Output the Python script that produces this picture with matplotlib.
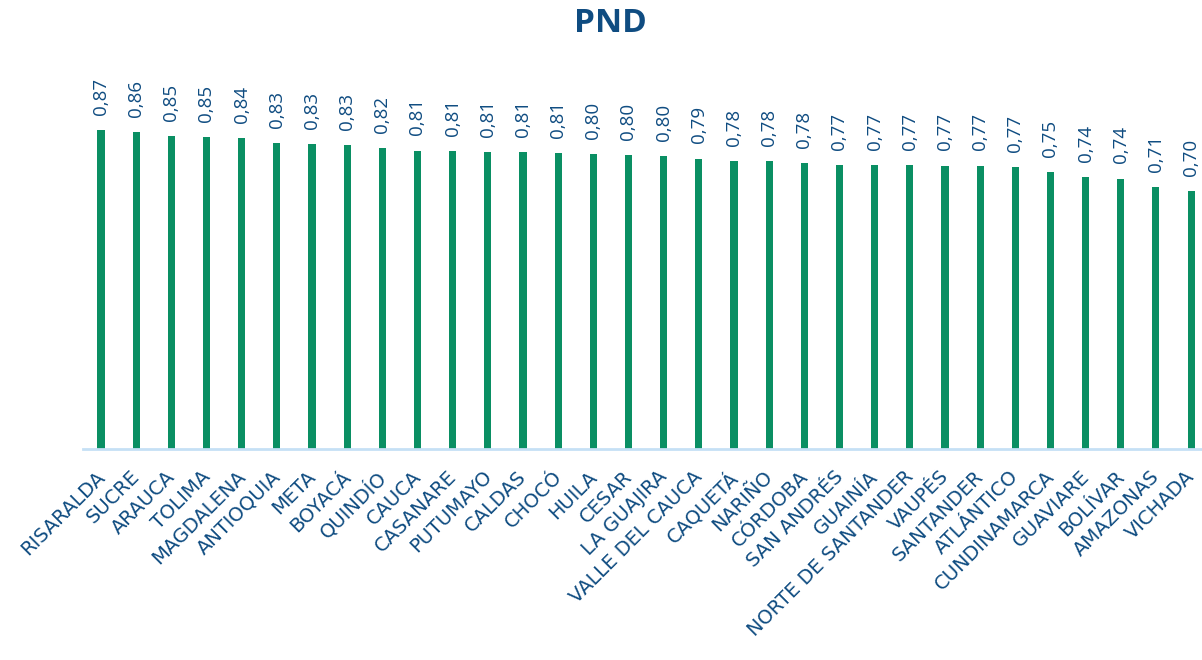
import numpy as np
import matplotlib.pyplot as plt
import matplotlib.transforms as mtransforms

# departamentos y valores (PND)
departamentos = ["RISARALDA", "SUCRE", "ARAUCA", "TOLIMA", "MAGDALENA", "ANTIOQUIA",
                 "META", "BOYACÁ", "QUINDÍO", "CAUCA", "CASANARE", "PUTUMAYO",
                 "CALDAS", "CHOCÓ", "HUILA", "CESAR", "LA GUAJIRA", "VALLE DEL CAUCA",
                 "CAQUETÁ", "NARIÑO", "CÓRDOBA", "SAN ANDRÉS", "GUAINÍA",
                 "NORTE DE SANTANDER", "VAUPÉS", "SANTANDER", "ATLÁNTICO",
                 "CUNDINAMARCA", "GUAVIARE", "BOLÍVAR", "AMAZONAS", "VICHADA"]
valores = [0.866, 0.861, 0.851, 0.848, 0.845, 0.832, 0.829, 0.826, 0.817, 0.811,
           0.810, 0.807, 0.806, 0.804, 0.802, 0.799, 0.796, 0.789, 0.783, 0.783,
           0.777, 0.772, 0.771, 0.771, 0.770, 0.770, 0.766, 0.752, 0.739, 0.735,
           0.712, 0.701]
etiquetas = ["0,87", "0,86", "0,85", "0,85", "0,84", "0,83", "0,83", "0,83", "0,82",
             "0,81", "0,81", "0,81", "0,81", "0,81", "0,80", "0,80", "0,80", "0,79",
             "0,78", "0,78", "0,78", "0,77", "0,77", "0,77", "0,77", "0,77", "0,77",
             "0,75", "0,74", "0,74", "0,71", "0,70"]

verde = "#0A8F63"
azul = "#0F4C81"

fig = plt.figure(figsize=(12.02, 6.6), dpi=100)
ax = fig.add_axes([0.0694, 0.3197, 0.9362, 0.5576])

x = np.arange(len(departamentos))
ax.bar(x, valores, width=0.2, color=verde)

# etiquetas de valor
for xi, v, t in zip(x, valores, etiquetas):
    ax.annotate(t, (xi, v), xytext=(0, 11), textcoords="offset points",
                rotation=90, ha="center", va="bottom", color=azul,
                fontsize=13.5, family="Open Sans")

ax.set_xlim(-0.5, len(departamentos) - 0.5)
ax.set_ylim(0, 1)
ax.set_yticks([])
ax.set_xticks(x)
ax.set_xticklabels(departamentos, rotation=45, ha="right", rotation_mode="anchor",
                   color=azul, fontsize=14, family="DejaVu Sans")
ax.tick_params(axis="x", length=0, pad=13)
# correr un poco las etiquetas a la izquierda
desplaza = mtransforms.ScaledTranslation(-6 / 100, 0, fig.dpi_scale_trans)
for lbl in ax.get_xticklabels():
    lbl.set_transform(lbl.get_transform() + desplaza)
for s in ["top", "right", "left"]:
    ax.spines[s].set_visible(False)
ax.spines["bottom"].set_color("#C5E0F5")
ax.spines["bottom"].set_linewidth(2)

fig.text(0.508, 0.965, "PND", ha="center", va="center", fontsize=24,
         fontweight="bold", color=azul, family="Open Sans")

fig.savefig("out.png", dpi=100)
